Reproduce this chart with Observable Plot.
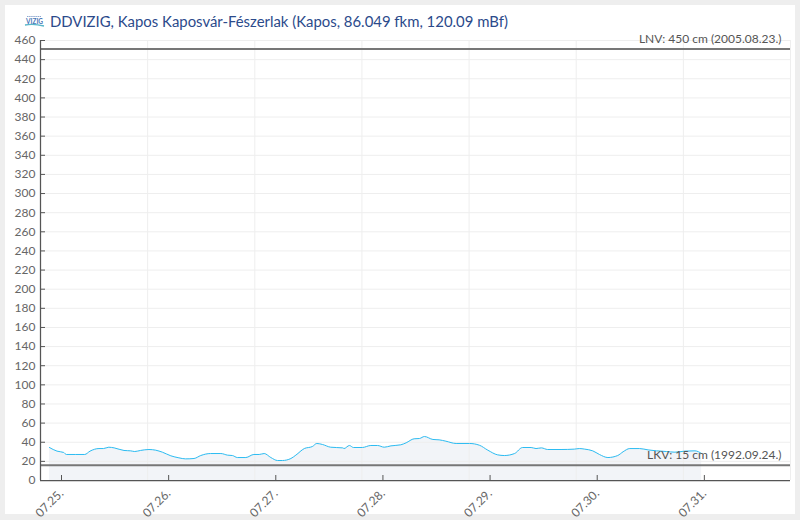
<!DOCTYPE html>
<html><head><meta charset="utf-8">
<script src="https://cdn.jsdelivr.net/npm/d3@7"></script>
<script src="https://cdn.jsdelivr.net/npm/@observablehq/plot@0.6"></script>
<style>
html,body{margin:0;padding:0;background:#eee;}
#card{position:absolute;left:5px;top:5px;width:790px;height:509px;background:#fff;font-family:Lato,sans-serif;}
#title{height:24px;box-sizing:border-box;padding:8px 0 0 19px;font-size:14.9px;line-height:16px;color:#2b4a8b;white-space:nowrap;display:flex;align-items:center;}
#title svg{margin-right:5px;flex:none;}
#chart svg{display:block;overflow:visible;}
</style></head><body>
<div id="card">
<div id="title"><svg width="21" height="12" viewBox="0 0 21 12"><path d="M3 1.5H17" stroke="#8fa9d0" stroke-width="1.2" stroke-dasharray="1.5 .6" fill="none"/><text x="2" y="8.5" font-size="6.5" font-weight="700" font-family="Lato" fill="#4a78b8">VIZIG</text><path d="M1 10 Q10 8.5 20 11" stroke="#58b5c9" stroke-width="1.3" fill="none"/></svg><span>DDVIZIG, Kapos Kaposvár-Fészerlak (Kapos, 86.049 fkm, 120.09 mBf)</span></div>
<div id="chart"></div>
</div>
<script>
const hours = [2,3.7,5.2,5.8,7.9,9.9,11.1,13.1,14.1,15.3,16.5,18.7,20.2,21.1,22.4,24.3,25.8,27.3,29.2,31,32.5,34.4,35.9,38.1,40.4,41.9,43,44.1,46,47.8,49,50.1,51.6,53.1,54.2,56.1,57.2,59.1,60.9,61.9,63.2,65,67.7,68,69.2,70.1,72.1,74,75.5,77,78.5,80.7,81.9,83.7,84.9,86,87.9,89.3,90.8,93.1,96.1,98.3,100.2,102.4,103.9,106.2,108,109.9,111,112.2,113.6,116.6,119.6,120.7,121.9,123.7,125.2,127.1,129.3,130.5,132,134.2,136.1,138,140.2,142.1,144.3,146.6,148.1];
const levels = [34.5,30.7,29.3,27.2,27.2,27.2,30.7,33.4,33.4,34.8,34.1,31.4,31,30.3,31.4,32.4,31.7,29.6,25.8,23.7,22.6,23,26.1,28.2,28.2,26.5,26.1,24,24,27.2,27.2,28.2,24,20.9,20.9,23,26.5,33.4,35.5,38.7,37.6,34.8,34.1,33.4,36.6,34.5,34.5,36.6,36.6,34.8,36.2,37.3,39.4,43.6,43.9,46,42.9,42.5,41.1,38.7,38.7,36.9,31.7,26.8,26.1,28.2,34.5,34.5,33.4,34.1,32.4,32.4,32.8,33.4,32.8,31,27.2,24,26.1,30,33.4,33.4,32,31,30.3,29.6,30.7,31,28.2];
const dayTicks = ["2022-07-25","2022-07-26","2022-07-27","2022-07-28","2022-07-29","2022-07-30","2022-07-31","2022-08-01"];
const dayLabels = ["07.25.","07.26.","07.27.","07.28.","07.29.","07.30.","07.31.",""];
const yTicks = d3.range(0,461,20);
const lnv = {value:450,label:"LNV: 450 cm (2005.08.23.)"};
const lkv = {value:15,label:"LKV: 15 cm (1992.09.24.)"};

const t0 = Date.UTC(2022,6,25);
const rows = hours.map((h,i)=>({t:new Date(t0+h*3600e3),v:levels[i]}));
const tickDates = dayTicks.map(d=>new Date(d+"T00:00:00Z"));
const labelOf = d => dayLabels[tickDates.findIndex(x=>+x===+d)];
const axisColor = "#555";
const plot = Plot.plot({
  width:790,height:491,marginLeft:35,marginRight:5,marginTop:11,marginBottom:40,
  style:{fontFamily:"Lato, sans-serif",fontSize:"12px",color:"#666",background:"transparent",overflow:"visible"},
  x:{type:"utc",domain:[tickDates[0],tickDates[7]],axis:null},
  y:{domain:[0,460],axis:null},
  marks:[
    Plot.areaY(rows,{x:"t",y:"v",fill:"#f2f4f8",curve:"monotone-x"}),
    Plot.ruleY(yTicks,{stroke:"#eeeeee",strokeWidth:1}),
    Plot.ruleX(tickDates,{stroke:"#eeeeee",strokeWidth:1}),
    Plot.lineY(rows,{x:"t",y:"v",stroke:"#2cbcf2",strokeWidth:1,curve:"monotone-x"}),
    Plot.ruleY([lnv.value],{stroke:"#777",strokeWidth:2,dy:-1}),
    Plot.ruleY([lkv.value],{stroke:"#777",strokeWidth:2,dy:-1}),
    Plot.text([lnv],{y:"value",text:"label",frameAnchor:"right",textAnchor:"end",dx:-9,dy:-11,fontSize:12,fill:"#555"}),
    Plot.text([lkv],{y:"value",text:"label",frameAnchor:"right",textAnchor:"end",dx:-9,dy:-11,fontSize:12,fill:"#555"}),
    Plot.ruleX([tickDates[0]],{stroke:axisColor,strokeWidth:1.25}),
    Plot.ruleY([0],{stroke:axisColor,strokeWidth:1.25}),
    Plot.axisY({ticks:yTicks,tickSize:-5,tickPadding:10,stroke:axisColor,fill:"#666",fontSize:12,label:null,tickFormat:d=>String(d)}),
    Plot.axisX({ticks:tickDates,tickSize:-5,tickPadding:16,stroke:axisColor,fill:"#666",fontSize:12,label:null,tickRotate:-45,tickFormat:labelOf,dx:21})
  ]
});
document.getElementById("chart").appendChild(plot);
</script>
</body></html>
